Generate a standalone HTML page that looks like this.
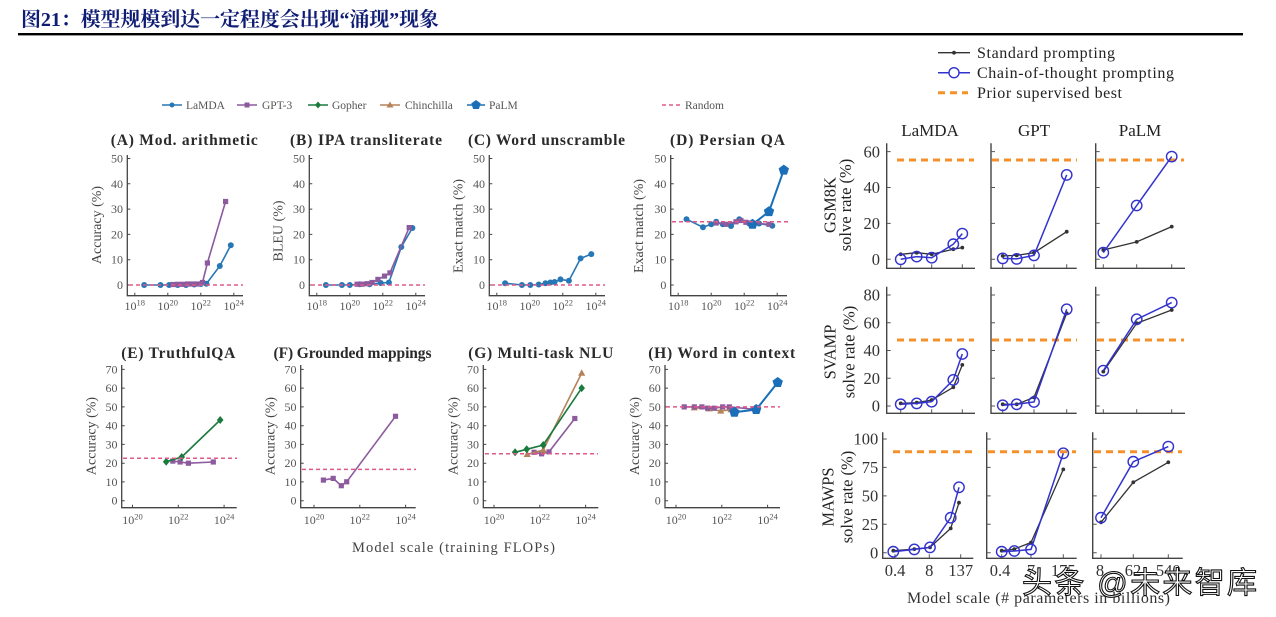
<!DOCTYPE html>
<html><head><meta charset="utf-8"><style>
html,body{margin:0;padding:0;background:#fff;}
svg{display:block;}
text{font-family:"Liberation Serif","Noto Serif CJK SC",serif;}
.tk{font-size:12px;fill:#555;}
.tt{font-size:15.5px;font-weight:bold;fill:#2a2a2a;}
.yl{font-size:14px;fill:#444;}
.ax{stroke:#444;stroke-width:1.3;fill:none;}
.rk{font-size:16.5px;fill:#333;}
.rax{stroke:#444;stroke-width:1.4;fill:none;}
</style></head><body>
<svg width="1276" height="617" viewBox="0 0 1276 617" xmlns="http://www.w3.org/2000/svg">
<defs>
<marker id="mL" viewBox="-6 -6 12 12" markerWidth="12" markerHeight="12" refX="0" refY="0" markerUnits="userSpaceOnUse"><circle r="3" fill="#2677b5"/></marker>
<marker id="mG" viewBox="-6 -6 12 12" markerWidth="12" markerHeight="12" refX="0" refY="0" markerUnits="userSpaceOnUse"><rect x="-2.6" y="-2.6" width="5.2" height="5.2" fill="#8d5a9e"/></marker>
<marker id="mO" viewBox="-6 -6 12 12" markerWidth="12" markerHeight="12" refX="0" refY="0" markerUnits="userSpaceOnUse"><polygon points="0,-4 3.3,0 0,4 -3.3,0" fill="#1b7a3e"/></marker>
<marker id="mC" viewBox="-6 -6 12 12" markerWidth="12" markerHeight="12" refX="0" refY="0" markerUnits="userSpaceOnUse"><polygon points="0,-3.8 3.6,2.6 -3.6,2.6" fill="#b5835a"/></marker>
<marker id="mP" viewBox="-7 -7 14 14" markerWidth="14" markerHeight="14" refX="0" refY="0" markerUnits="userSpaceOnUse"><polygon points="0,-5.5 5.2,-1.7 3.2,4.5 -3.2,4.5 -5.2,-1.7" fill="#1a6fb8"/></marker>
<marker id="mS" viewBox="-4 -4 8 8" markerWidth="8" markerHeight="8" refX="0" refY="0" markerUnits="userSpaceOnUse"><circle r="1.9" fill="#333"/></marker>
<marker id="mT" viewBox="-8 -8 16 16" markerWidth="16" markerHeight="16" refX="0" refY="0" markerUnits="userSpaceOnUse"><circle r="5.2" fill="none" stroke="#3232cf" stroke-width="1.4"/></marker>
</defs>
<rect width="1276" height="617" fill="#fff"/>

<!-- Title -->
<text x="21" y="26" font-size="20" font-weight="bold" fill="#0f1c74" textLength="418" style="font-family:'Liberation Serif','Noto Serif CJK SC',serif">图21：模型规模到达一定程度会出现“涌现”现象</text>
<rect x="18" y="33" width="1225" height="2.4" fill="#000"/>

<!-- Left legend -->
<g>
<line x1="162" y1="105" x2="182" y2="105" stroke="#2677b5" stroke-width="1.5"/><circle cx="172" cy="105" r="2.5" fill="#2677b5"/>
<text x="186" y="109" class="tk" style="font-size:11.5px">LaMDA</text>
<line x1="237" y1="105" x2="257" y2="105" stroke="#8d5a9e" stroke-width="1.5"/><rect x="244.5" y="102.5" width="5" height="5" fill="#8d5a9e"/>
<text x="262" y="109" class="tk" style="font-size:11.5px">GPT-3</text>
<line x1="308" y1="105" x2="328" y2="105" stroke="#1b7a3e" stroke-width="1.5"/><polygon points="318,101.5 321,105 318,108.5 315,105" fill="#1b7a3e"/>
<text x="332" y="109" class="tk" style="font-size:11.5px">Gopher</text>
<line x1="380" y1="105" x2="400" y2="105" stroke="#b5835a" stroke-width="1.5"/><polygon points="390,101.5 393.5,107.5 386.5,107.5" fill="#b5835a"/>
<text x="405" y="109" class="tk" style="font-size:11.5px">Chinchilla</text>
<line x1="467" y1="105" x2="485" y2="105" stroke="#1a6fb8" stroke-width="1.5"/><polygon points="476,100 480.7,103.4 478.9,109 473.1,109 471.3,103.4" fill="#1a6fb8"/>
<text x="489" y="109" class="tk" style="font-size:11.5px">PaLM</text>
<line x1="662" y1="105" x2="682" y2="105" stroke="#e0588a" stroke-width="1.5" stroke-dasharray="4,3"/>
<text x="685" y="109" class="tk" style="font-size:11.5px">Random</text>
</g>

<!-- Row 1 titles -->
<text class="tt" x="184.3" y="145" text-anchor="middle" textLength="147">(A) Mod. arithmetic</text>
<text class="tt" x="366" y="145" text-anchor="middle" textLength="152">(B) IPA transliterate</text>
<text class="tt" x="546.5" y="145" text-anchor="middle" textLength="157">(C) Word unscramble</text>
<text class="tt" x="727.5" y="145" text-anchor="middle" textLength="115">(D) Persian QA</text>

<!-- Row 1 axes -->
<g class="ax">
<path d="M127.3,155 V295.7 H243"/>
<path d="M309.3,155 V295.7 H425"/>
<path d="M489.3,155 V295.7 H605"/>
<path d="M670.7,155 V295.7 H787"/>
</g>
<g stroke="#444" stroke-width="1">
<path d="M127.3,285h3M127.3,259.7h3M127.3,234.4h3M127.3,209.1h3M127.3,183.8h3M127.3,158.5h3 M134.8,295.7v-3M167.8,295.7v-3M200.8,295.7v-3M233.8,295.7v-3"/>
<path d="M309.3,285h3M309.3,259.7h3M309.3,234.4h3M309.3,209.1h3M309.3,183.8h3M309.3,158.5h3 M316.8,295.7v-3M349.8,295.7v-3M382.8,295.7v-3M415.8,295.7v-3"/>
<path d="M489.3,285h3M489.3,259.7h3M489.3,234.4h3M489.3,209.1h3M489.3,183.8h3M489.3,158.5h3 M496.8,295.7v-3M529.8,295.7v-3M562.8,295.7v-3M595.8,295.7v-3"/>
<path d="M670.7,285h3M670.7,259.7h3M670.7,234.4h3M670.7,209.1h3M670.7,183.8h3M670.7,158.5h3 M678.2,295.7v-3M711.2,295.7v-3M744.2,295.7v-3M777.2,295.7v-3"/>
</g>
<g class="tk" text-anchor="end">
<text x="123" y="289">0</text><text x="123" y="263.7">10</text><text x="123" y="238.4">20</text><text x="123" y="213.1">30</text><text x="123" y="187.8">40</text><text x="123" y="162.5">50</text>
<text x="305" y="289">0</text><text x="305" y="263.7">10</text><text x="305" y="238.4">20</text><text x="305" y="213.1">30</text><text x="305" y="187.8">40</text><text x="305" y="162.5">50</text>
<text x="485" y="289">0</text><text x="485" y="263.7">10</text><text x="485" y="238.4">20</text><text x="485" y="213.1">30</text><text x="485" y="187.8">40</text><text x="485" y="162.5">50</text>
<text x="666.4" y="289">0</text><text x="666.4" y="263.7">10</text><text x="666.4" y="238.4">20</text><text x="666.4" y="213.1">30</text><text x="666.4" y="187.8">40</text><text x="666.4" y="162.5">50</text>
</g>
<g class="tk" text-anchor="middle">
<text x="134.8" y="310">10<tspan dy="-4.5" font-size="8.5">18</tspan></text>
<text x="167.8" y="310">10<tspan dy="-4.5" font-size="8.5">20</tspan></text>
<text x="200.8" y="310">10<tspan dy="-4.5" font-size="8.5">22</tspan></text>
<text x="233.8" y="310">10<tspan dy="-4.5" font-size="8.5">24</tspan></text>
<text x="316.8" y="310">10<tspan dy="-4.5" font-size="8.5">18</tspan></text>
<text x="349.8" y="310">10<tspan dy="-4.5" font-size="8.5">20</tspan></text>
<text x="382.8" y="310">10<tspan dy="-4.5" font-size="8.5">22</tspan></text>
<text x="415.8" y="310">10<tspan dy="-4.5" font-size="8.5">24</tspan></text>
<text x="496.8" y="310">10<tspan dy="-4.5" font-size="8.5">18</tspan></text>
<text x="529.8" y="310">10<tspan dy="-4.5" font-size="8.5">20</tspan></text>
<text x="562.8" y="310">10<tspan dy="-4.5" font-size="8.5">22</tspan></text>
<text x="595.8" y="310">10<tspan dy="-4.5" font-size="8.5">24</tspan></text>
<text x="678.2" y="310">10<tspan dy="-4.5" font-size="8.5">18</tspan></text>
<text x="711.2" y="310">10<tspan dy="-4.5" font-size="8.5">20</tspan></text>
<text x="744.2" y="310">10<tspan dy="-4.5" font-size="8.5">22</tspan></text>
<text x="777.2" y="310">10<tspan dy="-4.5" font-size="8.5">24</tspan></text>
</g>
<g class="yl" text-anchor="middle">
<text transform="translate(101,225) rotate(-90)">Accuracy (%)</text>
<text transform="translate(282.7,231) rotate(-90)">BLEU (%)</text>
<text transform="translate(462.3,226) rotate(-90)">Exact match (%)</text>
<text transform="translate(642.8,226) rotate(-90)">Exact match (%)</text>
</g>

<g fill="none" stroke-width="1.6">
<polyline stroke="#2677b5" marker-start="url(#mL)" marker-mid="url(#mL)" marker-end="url(#mL)" points="144.2,285 160.5,285 169.1,285 177.7,285 186,285 194.2,284.5 200.8,284 206.4,283.7 219.8,266 230.8,245.3"/>
<polyline stroke="#8d5a9e" marker-start="url(#mG)" marker-mid="url(#mG)" marker-end="url(#mG)" points="173.1,284.5 177.7,284.3 182.7,284.3 187.6,284 192.6,284 197.5,284 202.5,282.5 207.4,263 225.6,201.5"/>
<polyline stroke="#2677b5" marker-start="url(#mL)" marker-mid="url(#mL)" marker-end="url(#mL)" points="325.9,285 341.9,285 349.8,285 359.7,284.2 369.6,284.2 380.7,283 388.9,282.5 401.3,247 412.4,228"/>
<polyline stroke="#8d5a9e" marker-start="url(#mG)" marker-mid="url(#mG)" marker-end="url(#mG)" points="357.1,284.2 362,284.2 367.1,283.7 372.1,282.5 377.9,279.4 384.5,276.1 389.9,272.9 409.2,227.6"/>
<polyline stroke="#2677b5" marker-start="url(#mL)" marker-mid="url(#mL)" marker-end="url(#mL)" points="505.1,283.2 521.9,285 530.3,285 538.7,284.5 545.5,283.2 550.4,282.5 554.6,282 560.5,279.4 568.9,280.7 580.6,258.4 591.3,254.1"/>
<polyline stroke="#2677b5" marker-start="url(#mL)" marker-mid="url(#mL)" marker-end="url(#mL)" points="686.5,219.2 703,227.3 711.2,224.3 716.2,221.8 722.8,224.3 731,226 739.3,219.2 749.2,223.5 759.1,223.5 772.3,225.8"/>
<polyline stroke="#8d5a9e" marker-start="url(#mG)" marker-mid="url(#mG)" marker-end="url(#mG)" points="716.2,223 726.1,224.3 736,221.8 740.9,220.5 745.9,222.3 750.8,223 769,224.3"/>
<polyline stroke="#1a6fb8" stroke-width="2" marker-start="url(#mP)" marker-mid="url(#mP)" marker-end="url(#mP)" points="752.5,224.3 769,211.6 783.8,170.1"/>
</g>
<g stroke="#e0588a" stroke-width="1.5" stroke-dasharray="4,3">
<line x1="129" y1="285" x2="243" y2="285"/>
<line x1="311" y1="285" x2="425" y2="285"/>
<line x1="491" y1="285" x2="605" y2="285"/>
<line x1="672" y1="221.8" x2="788" y2="221.8"/>
</g>

<!-- Row 2 titles -->
<text class="tt" x="178.3" y="358" text-anchor="middle" textLength="114">(E) TruthfulQA</text>
<text class="tt" x="352.5" y="358" text-anchor="middle" textLength="158">(F) Grounded mappings</text>
<text class="tt" x="540.8" y="358" text-anchor="middle" textLength="145">(G) Multi-task NLU</text>
<text class="tt" x="721.7" y="358" text-anchor="middle" textLength="147">(H) Word in context</text>

<g class="ax">
<path d="M121.7,365 V507.7 H236.7"/>
<path d="M300.7,365 V507.7 H415.7"/>
<path d="M483.3,365 V507.7 H598.3"/>
<path d="M665,365 V507.7 H780"/>
</g>
<g stroke="#444" stroke-width="1">
<path d="M121.7,500.7h3M121.7,481.9h3M121.7,463.2h3M121.7,444.4h3M121.7,425.7h3M121.7,406.9h3M121.7,388.1h3M121.7,369.4h3 M132.5,507.7v-3M178.3,507.7v-3M224.1,507.7v-3"/>
<path d="M300.7,500.7h3M300.7,481.9h3M300.7,463.2h3M300.7,444.4h3M300.7,425.7h3M300.7,406.9h3M300.7,388.1h3M300.7,369.4h3 M314,507.7v-3M359.8,507.7v-3M405.6,507.7v-3"/>
<path d="M483.3,500.7h3M483.3,481.9h3M483.3,463.2h3M483.3,444.4h3M483.3,425.7h3M483.3,406.9h3M483.3,388.1h3M483.3,369.4h3 M494,507.7v-3M539.8,507.7v-3M585.6,507.7v-3"/>
<path d="M665,500.7h3M665,481.9h3M665,463.2h3M665,444.4h3M665,425.7h3M665,406.9h3M665,388.1h3M665,369.4h3 M676,507.7v-3M721.8,507.7v-3M767.6,507.7v-3"/>
</g>
<g class="tk" text-anchor="end">
<text x="117.5" y="504.7">0</text><text x="117.5" y="485.9">10</text><text x="117.5" y="467.2">20</text><text x="117.5" y="448.4">30</text><text x="117.5" y="429.7">40</text><text x="117.5" y="410.9">50</text><text x="117.5" y="392.1">60</text><text x="117.5" y="373.4">70</text>
<text x="296.5" y="504.7">0</text><text x="296.5" y="485.9">10</text><text x="296.5" y="467.2">20</text><text x="296.5" y="448.4">30</text><text x="296.5" y="429.7">40</text><text x="296.5" y="410.9">50</text><text x="296.5" y="392.1">60</text><text x="296.5" y="373.4">70</text>
<text x="479" y="504.7">0</text><text x="479" y="485.9">10</text><text x="479" y="467.2">20</text><text x="479" y="448.4">30</text><text x="479" y="429.7">40</text><text x="479" y="410.9">50</text><text x="479" y="392.1">60</text><text x="479" y="373.4">70</text>
<text x="660.8" y="504.7">0</text><text x="660.8" y="485.9">10</text><text x="660.8" y="467.2">20</text><text x="660.8" y="448.4">30</text><text x="660.8" y="429.7">40</text><text x="660.8" y="410.9">50</text><text x="660.8" y="392.1">60</text><text x="660.8" y="373.4">70</text>
</g>
<g class="tk" text-anchor="middle">
<text x="132.5" y="524">10<tspan dy="-4.5" font-size="8.5">20</tspan></text>
<text x="178.3" y="524">10<tspan dy="-4.5" font-size="8.5">22</tspan></text>
<text x="224.1" y="524">10<tspan dy="-4.5" font-size="8.5">24</tspan></text>
<text x="314" y="524">10<tspan dy="-4.5" font-size="8.5">20</tspan></text>
<text x="359.8" y="524">10<tspan dy="-4.5" font-size="8.5">22</tspan></text>
<text x="405.6" y="524">10<tspan dy="-4.5" font-size="8.5">24</tspan></text>
<text x="494" y="524">10<tspan dy="-4.5" font-size="8.5">20</tspan></text>
<text x="539.8" y="524">10<tspan dy="-4.5" font-size="8.5">22</tspan></text>
<text x="585.6" y="524">10<tspan dy="-4.5" font-size="8.5">24</tspan></text>
<text x="676" y="524">10<tspan dy="-4.5" font-size="8.5">20</tspan></text>
<text x="721.8" y="524">10<tspan dy="-4.5" font-size="8.5">22</tspan></text>
<text x="767.6" y="524">10<tspan dy="-4.5" font-size="8.5">24</tspan></text>
</g>
<g class="yl" text-anchor="middle">
<text transform="translate(95.7,436) rotate(-90)">Accuracy (%)</text>
<text transform="translate(274.7,436) rotate(-90)">Accuracy (%)</text>
<text transform="translate(457.3,436) rotate(-90)">Accuracy (%)</text>
<text transform="translate(639,436) rotate(-90)">Accuracy (%)</text>
</g>

<g fill="none" stroke-width="1.6">
<polyline stroke="#8d5a9e" marker-start="url(#mG)" marker-mid="url(#mG)" marker-end="url(#mG)" points="172.8,461.1 180.1,462 188.4,463.2 213.3,462"/>
<polyline stroke="#1b7a3e" marker-start="url(#mO)" marker-mid="url(#mO)" marker-end="url(#mO)" points="166.2,461.7 181.7,457 220.2,420"/>
<polyline stroke="#8d5a9e" marker-start="url(#mG)" marker-mid="url(#mG)" marker-end="url(#mG)" points="323.4,480.1 333.2,478.4 341.3,485.7 346.7,481.8 395.5,416.3"/>
<polyline stroke="#8d5a9e" marker-start="url(#mG)" marker-mid="url(#mG)" marker-end="url(#mG)" points="534.1,452.3 541.6,453.8 549,451.9 574.8,418.5"/>
<polyline stroke="#b5835a" marker-start="url(#mC)" marker-mid="url(#mC)" marker-end="url(#mC)" points="527.2,454.4 543.2,450 581.7,373.1"/>
<polyline stroke="#1b7a3e" marker-start="url(#mO)" marker-mid="url(#mO)" marker-end="url(#mO)" points="515.1,452.3 526.7,449.3 543.2,445 581.7,388.1"/>
<polyline stroke="#b5835a" marker-start="url(#mC)" marker-mid="url(#mC)" marker-end="url(#mC)" points="694.3,407.8 709.2,408.8 720.7,411 731,409.7"/>
<polyline stroke="#8d5a9e" marker-start="url(#mG)" marker-mid="url(#mG)" marker-end="url(#mG)" points="684.2,406.9 694.3,406.9 701.9,406.9 707.6,408.2 714.2,408.2 722.7,406.9 729.3,406.9 757.5,409.5"/>
<polyline stroke="#1a6fb8" stroke-width="2" marker-start="url(#mP)" marker-mid="url(#mP)" marker-end="url(#mP)" points="734.4,412.2 756.2,409.5 777.7,382.5"/>
</g>
<g stroke="#e0588a" stroke-width="1.5" stroke-dasharray="4,3">
<line x1="123" y1="458.3" x2="237" y2="458.3"/>
<line x1="302" y1="469.4" x2="416" y2="469.4"/>
<line x1="485" y1="453.8" x2="598" y2="453.8"/>
<line x1="666" y1="406.9" x2="780" y2="406.9"/>
</g>

<text x="453.5" y="552" text-anchor="middle" font-size="14.5" fill="#444" textLength="203">Model scale (training FLOPs)</text>

<!-- ===== Right chart ===== -->
<g fill="#222">
<line x1="938" y1="52.7" x2="970" y2="52.7" stroke="#333" stroke-width="1.3"/><circle cx="954" cy="52.7" r="1.9" fill="#333"/>
<text x="977" y="58" font-size="16" textLength="138">Standard prompting</text>
<line x1="938" y1="72.7" x2="970" y2="72.7" stroke="#3232cf" stroke-width="1.5"/><circle cx="954" cy="72.7" r="5" fill="#fff" stroke="#3232cf" stroke-width="1.4"/>
<text x="977" y="78" font-size="16" textLength="197">Chain-of-thought prompting</text>
<line x1="938" y1="92.7" x2="968" y2="92.7" stroke="#f5902a" stroke-width="3" stroke-dasharray="7,5"/>
<text x="977" y="98" font-size="16" textLength="145">Prior supervised best</text>
</g>
<g font-size="17" fill="#222" text-anchor="middle">
<text x="930" y="136">LaMDA</text>
<text x="1034" y="136">GPT</text>
<text x="1140" y="136">PaLM</text>
</g>

<g class="rax">
<path d="M886.7,143.3 V268.3 H975"/>
<path d="M991,143.3 V268.3 H1076.7"/>
<path d="M1095.7,143.3 V268.3 H1185"/>
<path d="M886.7,286.7 V413.3 H975"/>
<path d="M991,286.7 V413.3 H1076.7"/>
<path d="M1095.7,286.7 V413.3 H1185"/>
<path d="M882.7,432.3 V558.3 H973.3"/>
<path d="M986.7,432.3 V558.3 H1076.7"/>
<path d="M1092.7,432.3 V558.3 H1182.7"/>
</g>
<g stroke="#555" stroke-width="1">
<path d="M886.7,259.3h4M886.7,223.4h4M886.7,187.5h4M886.7,151.6h4 M991,259.3h4M991,223.4h4M991,187.5h4M991,151.6h4 M1095.7,259.3h4M1095.7,223.4h4M1095.7,187.5h4M1095.7,151.6h4"/>
<path d="M886.7,406h4M886.7,378.3h4M886.7,350.5h4M886.7,322.8h4M886.7,295h4 M991,406h4M991,378.3h4M991,350.5h4M991,322.8h4M991,295h4 M1095.7,406h4M1095.7,378.3h4M1095.7,350.5h4M1095.7,322.8h4M1095.7,295h4"/>
<path d="M882.7,552.7h4M882.7,524.3h4M882.7,495.9h4M882.7,467.4h4M882.7,439h4 M986.7,552.7h4M986.7,524.3h4M986.7,495.9h4M986.7,467.4h4M986.7,439h4 M1092.7,552.7h4M1092.7,524.3h4M1092.7,495.9h4M1092.7,467.4h4M1092.7,439h4"/>
<path d="M900.7,268.3v-4M931.7,268.3v-4M962.3,268.3v-4M1002.7,268.3v-4M1034,268.3v-4M1066.7,268.3v-4M1103.3,268.3v-4M1136.7,268.3v-4M1171.7,268.3v-4"/>
<path d="M900.7,413.3v-4M931.7,413.3v-4M962.3,413.3v-4M1002.7,413.3v-4M1034,413.3v-4M1066.7,413.3v-4M1103.3,413.3v-4M1136.7,413.3v-4M1171.7,413.3v-4"/>
<path d="M895,558.3v-4M929.3,558.3v-4M960.7,558.3v-4M1001.7,558.3v-4M1031,558.3v-4M1063.3,558.3v-4M1101,558.3v-4M1133.3,558.3v-4M1168.3,558.3v-4"/>
</g>
<g class="rk" text-anchor="end">
<text x="880" y="265">0</text><text x="880" y="229.1">20</text><text x="880" y="193.2">40</text><text x="880" y="157.3">60</text>
<text x="880" y="411.7">0</text><text x="880" y="384">20</text><text x="880" y="356.2">40</text><text x="880" y="328.5">60</text><text x="880" y="300.7">80</text>
<text x="878.3" y="558.4">0</text><text x="878.3" y="530">25</text><text x="878.3" y="501.6">50</text><text x="878.3" y="473.1">75</text><text x="878.3" y="444.7">100</text>
</g>
<g font-size="16.5" fill="#222" text-anchor="middle">
<text transform="translate(835.5,205) rotate(-90)">GSM8K</text>
<text transform="translate(851,205) rotate(-90)">solve rate (%)</text>
<text transform="translate(835.5,352) rotate(-90)">SVAMP</text>
<text transform="translate(854.5,352) rotate(-90)">solve rate (%)</text>
<text transform="translate(833.5,497) rotate(-90)">MAWPS</text>
<text transform="translate(852.5,497) rotate(-90)">solve rate (%)</text>
</g>

<g stroke="#f5902a" stroke-width="3" stroke-dasharray="7,5">
<line x1="897" y1="160" x2="974" y2="160"/>
<line x1="992" y1="160" x2="1077" y2="160"/>
<line x1="1097" y1="160" x2="1184" y2="160"/>
<line x1="897" y1="340" x2="974" y2="340"/>
<line x1="992" y1="340" x2="1077" y2="340"/>
<line x1="1097" y1="340" x2="1184" y2="340"/>
<line x1="893" y1="451.7" x2="972" y2="451.7"/>
<line x1="988" y1="451.7" x2="1076" y2="451.7"/>
<line x1="1094" y1="451.7" x2="1182" y2="451.7"/>
</g>

<g fill="none">
<g stroke="#333" stroke-width="1.3">
<polyline marker-start="url(#mS)" marker-mid="url(#mS)" marker-end="url(#mS)" points="900.7,254.3 916.7,252.7 931.7,254.3 953.3,249.2 962.3,247.6"/>
<polyline marker-start="url(#mS)" marker-mid="url(#mS)" marker-end="url(#mS)" points="1002.7,255.9 1016.7,255.4 1034,252.7 1066.7,231.7"/>
<polyline marker-start="url(#mS)" marker-mid="url(#mS)" marker-end="url(#mS)" points="1103.3,250 1136.7,241.9 1171.7,226.6"/>
<polyline marker-start="url(#mS)" marker-mid="url(#mS)" marker-end="url(#mS)" points="900.7,403.4 916.7,402.7 931.7,400 953.3,387.3 962.3,364.9"/>
<polyline marker-start="url(#mS)" marker-mid="url(#mS)" marker-end="url(#mS)" points="1002.7,404.3 1016.7,404.3 1034,397.4 1066.7,313.3"/>
<polyline marker-start="url(#mS)" marker-mid="url(#mS)" marker-end="url(#mS)" points="1103.3,371.6 1136.7,323.3 1171.7,310"/>
<polyline marker-start="url(#mS)" marker-mid="url(#mS)" marker-end="url(#mS)" points="893.3,550.7 914.3,549.1 930,547.4 950.7,528.4 959,502.7"/>
<polyline marker-start="url(#mS)" marker-mid="url(#mS)" marker-end="url(#mS)" points="1001.7,550.7 1014.3,549.1 1031,542.5 1063.3,469.4"/>
<polyline marker-start="url(#mS)" marker-mid="url(#mS)" marker-end="url(#mS)" points="1101,522.3 1133.3,482.3 1168.3,462.3"/>
</g>
<g stroke="#3232cf" stroke-width="1.5">
<polyline marker-start="url(#mT)" marker-mid="url(#mT)" marker-end="url(#mT)" points="900.7,259.3 916.7,256.6 931.7,257.7 953.3,244.2 962.3,233.6"/>
<polyline marker-start="url(#mT)" marker-mid="url(#mT)" marker-end="url(#mT)" points="1002.7,258.4 1016.7,258.9 1034,255.4 1066.7,174.9"/>
<polyline marker-start="url(#mT)" marker-mid="url(#mT)" marker-end="url(#mT)" points="1103.3,252.7 1136.7,205.5 1171.7,156.6"/>
<polyline marker-start="url(#mT)" marker-mid="url(#mT)" marker-end="url(#mT)" points="900.7,404.3 916.7,403.4 931.7,401.7 953.3,379.9 962.3,354"/>
<polyline marker-start="url(#mT)" marker-mid="url(#mT)" marker-end="url(#mT)" points="1002.7,405.3 1016.7,404.3 1034,402 1066.7,309.3"/>
<polyline marker-start="url(#mT)" marker-mid="url(#mT)" marker-end="url(#mT)" points="1103.3,370.6 1136.7,319.3 1171.7,302.6"/>
<polyline marker-start="url(#mT)" marker-mid="url(#mT)" marker-end="url(#mT)" points="893.3,551.7 914.3,549.4 930,547.4 950.7,517.7 959,487.3"/>
<polyline marker-start="url(#mT)" marker-mid="url(#mT)" marker-end="url(#mT)" points="1001.7,551.7 1014.3,551 1031,549.4 1063.3,453.3"/>
<polyline marker-start="url(#mT)" marker-mid="url(#mT)" marker-end="url(#mT)" points="1101,517.7 1133.3,461.7 1168.3,446.6"/>
</g>
</g>

<g class="rk" text-anchor="middle" style="fill:#333">
<text x="895" y="576">0.4</text><text x="929.3" y="576">8</text><text x="960.7" y="576">137</text>
<text x="1000" y="576">0.4</text><text x="1031" y="576">7</text><text x="1063.3" y="576">175</text>
<text x="1100" y="576">8</text><text x="1133" y="576">62</text><text x="1168.3" y="576">540</text>
</g>
<text x="1038.5" y="603" text-anchor="middle" font-size="16" fill="#333" textLength="263">Model scale (# parameters in billions)</text>

<text x="1022" y="593" font-size="30" fill="#fff" stroke="#111" stroke-width="1.1" textLength="235" style="font-family:'Liberation Sans','Noto Sans CJK SC',sans-serif">头条 @未来智库</text>
</svg>
</body></html>
